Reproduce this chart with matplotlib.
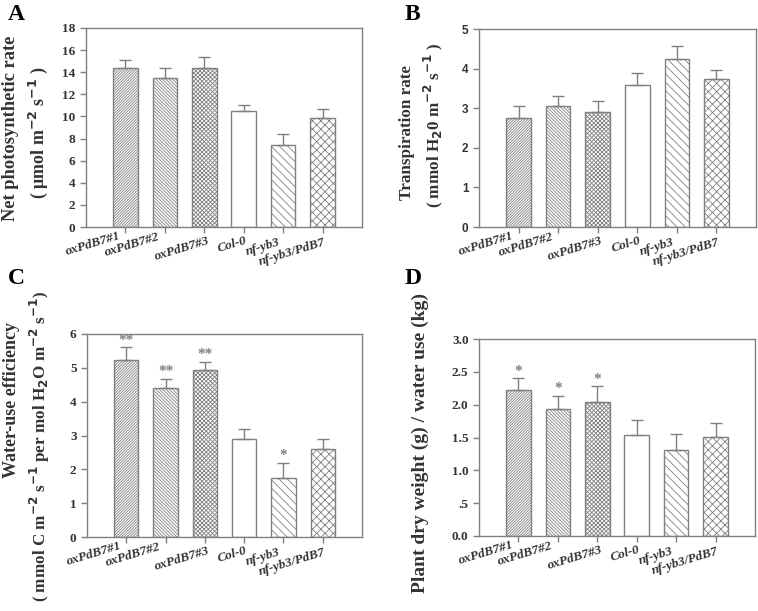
import matplotlib
matplotlib.use("Agg")
import matplotlib.pyplot as plt
import numpy as np

genotypes = ["oxPdB7#1", "oxPdB7#2", "oxPdB7#3", "Col-0", "nf-yb3", "nf-yb3/PdB7"]

photo_mean = [14.35, 13.52, 14.37, 10.47, 7.38, 9.83]
photo_err = [0.75, 0.85, 1.0, 0.55, 1.05, 0.8]

transp_mean = [2.74, 3.05, 2.90, 3.59, 4.24, 3.75]
transp_err = [0.31, 0.27, 0.27, 0.30, 0.33, 0.21]

wue_mean = [5.24, 4.40, 4.93, 2.90, 1.73, 2.60]
wue_err = [0.37, 0.28, 0.25, 0.29, 0.46, 0.30]
wue_sig = ["**", "**", "**", "", "*", ""]

dw_mean = [2.22, 1.93, 2.04, 1.54, 1.31, 1.51]
dw_err = [0.18, 0.20, 0.24, 0.22, 0.24, 0.21]
dw_sig = ["*", "*", "*", "", "", ""]

hatches = ["/" * 12, "\\" * 10, "x" * 8, "", "\\" * 4, "x" * 4]
# label anchor offsets in pixels (right end of each rotated label)
label_dx = [-7, -7, 3, 1, -5, 1]
label_dy = [-3, -4, -8, -8, -9, -9]

serif = "Liberation Serif"
sans = "Liberation Sans"
gray = "#808080"
plt.rcParams["hatch.linewidth"] = 0.6

W, H = 758, 611
fig = plt.figure(figsize=(W / 100, H / 100), dpi=100)


def px_axes(l, t, r, b):
    return fig.add_axes([l / W, (H - b) / H, (r - l) / W, (b - t) / H])


def panel(ax, mean, err, ymax, yticks, yticklabels, tickfont, ticksize, sig=None, sig_off=0.0):
    x = np.arange(len(genotypes))
    for i in range(len(x)):
        ax.bar(x[i], mean[i], width=0.62, color="white", edgecolor=gray,
               hatch=hatches[i], linewidth=1.0, zorder=2)
    ax.errorbar(x, mean, yerr=[np.zeros(len(err)), err], fmt="none",
                ecolor=gray, elinewidth=1.0, capsize=4, capthick=1.0, zorder=3)
    if sig is not None:
        for i in range(len(x)):
            if sig[i]:
                ax.text(x[i], mean[i] + err[i] + sig_off, sig[i], ha="center",
                        va="bottom", color=gray, fontsize=11, fontweight="bold",
                        family=serif)
    ax.set_xlim(-1, 6)
    ax.set_ylim(0, ymax)
    ax.set_yticks(yticks)
    ax.set_yticklabels(yticklabels, fontsize=ticksize, fontweight="bold", family=tickfont,
                       color="#333333")
    ax.set_xticks(x)
    ax.set_xticklabels([])
    for i, g in enumerate(genotypes):
        ax.annotate(g, xy=(x[i], 0), xycoords=("data", "axes fraction"),
                    xytext=(label_dx[i] * 0.72, label_dy[i] * 0.72), textcoords="offset points",
                    ha="right", va="top", rotation=17, rotation_mode="anchor",
                    fontsize=9.5, fontweight="bold", style="italic", family=serif,
                    color="#333333")
    for s in ax.spines.values():
        s.set_color(gray)
        s.set_linewidth(1.0)
    ax.tick_params(direction="out", color=gray, length=4, width=1.0)


axA = px_axes(86, 28, 362, 227)
panel(axA, photo_mean, photo_err, 18, np.arange(0, 19, 2),
      [str(v) for v in range(0, 19, 2)], serif, 9.5)
axB = px_axes(479, 29, 756, 227)
panel(axB, transp_mean, transp_err, 5, np.arange(0, 6, 1),
      [str(v) for v in range(0, 6)], sans, 8.5)
axC = px_axes(87, 334, 362, 537)
panel(axC, wue_mean, wue_err, 6, np.arange(0, 7, 1),
      [str(v) for v in range(0, 7)], serif, 9.5, sig=wue_sig, sig_off=0.02)
axD = px_axes(479, 339, 755, 536)
panel(axD, dw_mean, dw_err, 3.0, np.arange(0, 3.01, 0.5),
      ["0.0", ".5", "1.0", "1.5", "2.0", "2.5", "3.0"], serif, 9.5, sig=dw_sig, sig_off=0.01)

lab = dict(rotation=90, ha="center", va="center", fontweight="bold", family=serif,
           color="#333333")
sup2 = "$^{\\mathbf{-2}}$"
sup1 = "$^{\\mathbf{-1}}$"
sub2 = "$_{\\mathbf{2}}$"
fig.text(11 / W, 1 - 128 / H, "Net photosynthetic rate", fontsize=13.3, **lab)
fig.text(38 / W, 1 - 133 / H, "( μmol m" + sup2 + " s" + sup1 + " )", fontsize=13, **lab)

fig.text(407 / W, 1 - 133 / H, "Transpiration rate", fontsize=12.3, **lab)
fig.text(433 / W, 1 - 125 / H, "( mmol H" + sub2 + "0 m" + sup2 + " s" + sup1 + " )", fontsize=12.3, **lab)

fig.text(12 / W, 1 - 400 / H, "Water-use efficiency", fontsize=13, **lab)
fig.text(40 / W, 1 - 446 / H,
         "( mmol C m" + sup2 + " s" + sup1 + " per mol H" + sub2 + "O m" + sup2 + " s" + sup1 + ")",
         fontsize=12.3, **lab)

fig.text(420 / W, 1 - 443 / H, "Plant dry weight (g) / water use (kg)", fontsize=14, **lab)

let = dict(ha="left", va="center", fontsize=17, fontweight="bold", family=serif)
fig.text(8 / W, 1 - 14 / H, "A", **let)
fig.text(405 / W, 1 - 14 / H, "B", **let)
fig.text(8 / W, 1 - 278 / H, "C", **let)
fig.text(405 / W, 1 - 278 / H, "D", **let)

fig.savefig("out.png", dpi=100)
